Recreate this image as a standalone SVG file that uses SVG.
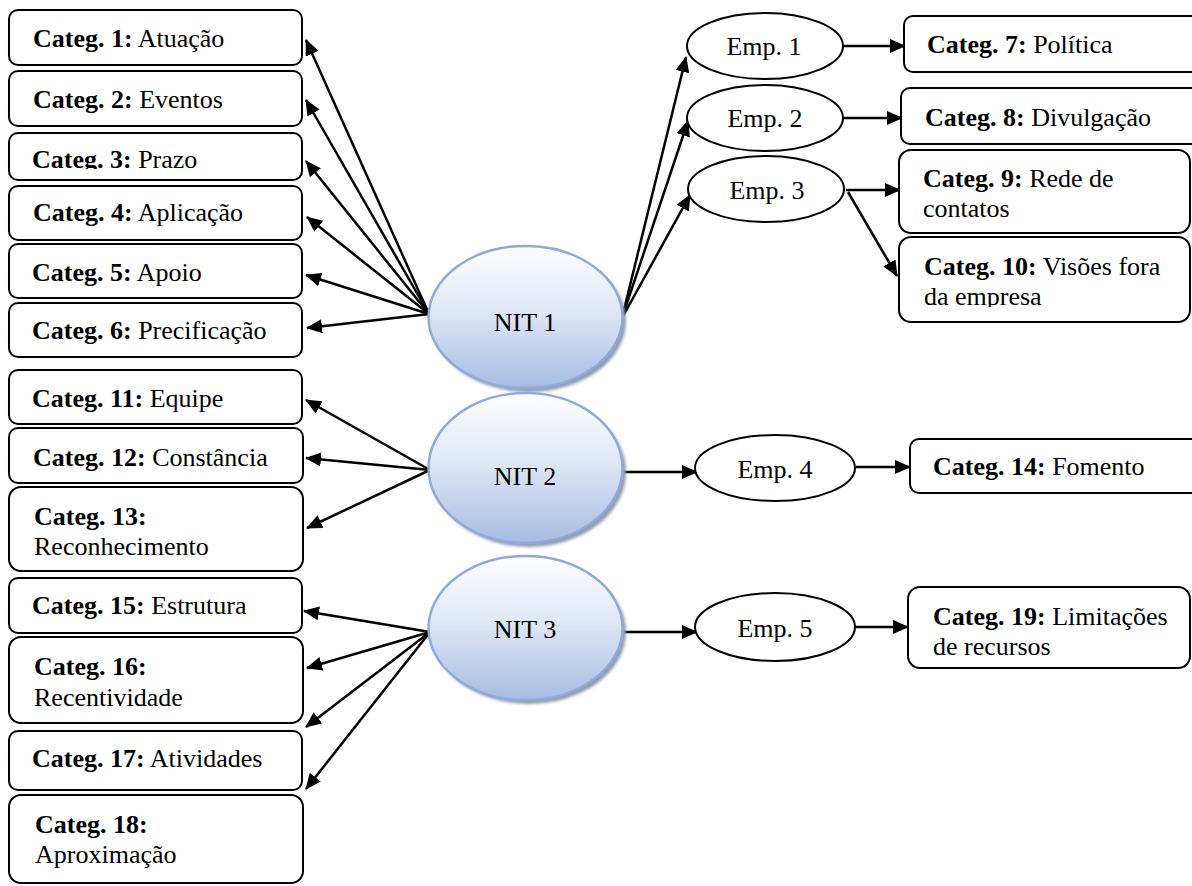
<svg xmlns="http://www.w3.org/2000/svg" width="1192" height="886" viewBox="0 0 1192 886">
<style>
text{font-family:"Liberation Serif","Times New Roman",serif;font-size:26px;fill:#000}
.b{font-weight:bold}
.box{fill:#fff;stroke:#000;stroke-width:2}
.emp{fill:#fff;stroke:#000;stroke-width:2}
.nit{fill:url(#ng);stroke:#8eaadb;stroke-width:2.5}
.sh{fill:#8f9bb0}
.c{text-anchor:middle}
#connectors line{stroke:#000;stroke-width:2.5;marker-end:url(#ah)}
</style>
<defs>
<linearGradient id="ng" x1="0" y1="0" x2="0" y2="1">
<stop offset="0" stop-color="#fdfdff"/>
<stop offset="0.45" stop-color="#e1e8f6"/>
<stop offset="1" stop-color="#a6bce2"/>
</linearGradient>
<filter id="blur" x="-10%" y="-10%" width="120%" height="120%"><feGaussianBlur stdDeviation="1.5"/></filter>
<marker id="ah" viewBox="0 0 16 14" refX="15" refY="7" markerWidth="16" markerHeight="14" markerUnits="userSpaceOnUse" orient="auto">
<path d="M0,0 L16,7 L0,14 z" fill="#000"/>
</marker>
<clipPath id="clip3"><rect x="9" y="133" width="293" height="36"/></clipPath>
<clipPath id="clip10"><rect x="899" y="237" width="291" height="70"/></clipPath>
</defs>

<g id="connectors">
<line x1="429" y1="314" x2="306" y2="40"/>
<line x1="429" y1="314" x2="306" y2="100"/>
<line x1="429" y1="314" x2="306" y2="161"/>
<line x1="429" y1="314" x2="307" y2="217"/>
<line x1="429" y1="314" x2="306" y2="275"/>
<line x1="429" y1="314" x2="307" y2="328"/>
<line x1="430" y1="470" x2="306" y2="400"/>
<line x1="430" y1="470" x2="306" y2="458"/>
<line x1="430" y1="470" x2="307" y2="528"/>
<line x1="430" y1="632" x2="304" y2="611"/>
<line x1="430" y1="632" x2="307" y2="668"/>
<line x1="430" y1="632" x2="306" y2="727"/>
<line x1="430" y1="632" x2="306" y2="789"/>
<line x1="622" y1="318" x2="686" y2="57"/>
<line x1="622" y1="318" x2="688" y2="121"/>
<line x1="622" y1="318" x2="690" y2="195"/>
<line x1="843" y1="46" x2="905" y2="46"/>
<line x1="843" y1="118" x2="902" y2="118"/>
<line x1="846" y1="190" x2="900" y2="190"/>
<line x1="848" y1="192" x2="897" y2="276"/>
<line x1="624" y1="472" x2="697" y2="472"/>
<line x1="856" y1="467" x2="910" y2="467"/>
<line x1="624" y1="632" x2="697" y2="632"/>
<line x1="855" y1="627" x2="908" y2="627"/>
</g>

<g id="nit1">
<ellipse class="sh" cx="529" cy="321" rx="97" ry="71" filter="url(#blur)"/>
<ellipse class="nit" cx="525.5" cy="317" rx="97" ry="71"/>
<text class="c" x="525" y="331">NIT 1</text>
</g>
<g id="nit2">
<ellipse class="sh" cx="529" cy="472" rx="97" ry="75" filter="url(#blur)"/>
<ellipse class="nit" cx="525.5" cy="468" rx="97" ry="75"/>
<text class="c" x="525" y="485">NIT 2</text>
</g>
<g id="nit3">
<ellipse class="sh" cx="529" cy="632" rx="97" ry="72" filter="url(#blur)"/>
<ellipse class="nit" cx="525.5" cy="628" rx="97" ry="72"/>
<text class="c" x="525" y="638">NIT 3</text>
</g>

<g id="emp1"><ellipse class="emp" cx="765" cy="46" rx="78" ry="33"/><text class="c" x="764" y="55">Emp. 1</text></g>
<g id="emp2"><ellipse class="emp" cx="765" cy="118" rx="78" ry="33"/><text class="c" x="765" y="127">Emp. 2</text></g>
<g id="emp3"><ellipse class="emp" cx="766" cy="189" rx="78" ry="33"/><text class="c" x="767" y="199">Emp. 3</text></g>
<g id="emp4"><ellipse class="emp" cx="775" cy="468" rx="80" ry="33"/><text class="c" x="775" y="478">Emp. 4</text></g>
<g id="emp5"><ellipse class="emp" cx="775" cy="627" rx="80" ry="34"/><text class="c" x="775" y="637">Emp. 5</text></g>

<g id="cat1"><rect class="box" x="9" y="10" width="293" height="55" rx="9"/><text x="33" y="47"><tspan class="b">Categ. 1:</tspan> Atuação</text></g>
<g id="cat2"><rect class="box" x="9" y="71" width="293" height="55" rx="9"/><text x="33" y="108"><tspan class="b">Categ. 2:</tspan> Eventos</text></g>
<g id="cat3"><rect class="box" x="9" y="133" width="293" height="47" rx="9"/><text x="32" y="168" clip-path="url(#clip3)"><tspan class="b">Categ. 3:</tspan> Prazo</text></g>
<g id="cat4"><rect class="box" x="9" y="186" width="293" height="54" rx="9"/><text x="33" y="221"><tspan class="b">Categ. 4:</tspan> Aplicação</text></g>
<g id="cat5"><rect class="box" x="9" y="244" width="293" height="54" rx="9"/><text x="32" y="281"><tspan class="b">Categ. 5:</tspan> Apoio</text></g>
<g id="cat6"><rect class="box" x="9" y="303" width="293" height="54" rx="9"/><text x="32" y="339"><tspan class="b">Categ. 6:</tspan> Precificação</text></g>

<g id="cat11"><rect class="box" x="9" y="370" width="293" height="54" rx="9"/><text x="32" y="407"><tspan class="b">Categ. 11:</tspan> Equipe</text></g>
<g id="cat12"><rect class="box" x="9" y="428" width="294" height="55" rx="9"/><text x="33" y="466"><tspan class="b">Categ. 12:</tspan> Constância</text></g>
<g id="cat13"><rect class="box" x="9" y="487" width="294" height="84" rx="12"/><text x="34" y="525"><tspan class="b">Categ. 13:</tspan></text><text x="34" y="555">Reconhecimento</text></g>
<g id="cat15"><rect class="box" x="9" y="578" width="293" height="55" rx="9"/><text x="32" y="614"><tspan class="b">Categ. 15:</tspan> Estrutura</text></g>
<g id="cat16"><rect class="box" x="9" y="637" width="294" height="86" rx="12"/><text x="34" y="675"><tspan class="b">Categ. 16:</tspan></text><text x="34" y="706">Recentividade</text></g>
<g id="cat17"><rect class="box" x="9" y="731" width="293" height="59" rx="9"/><text x="32" y="767"><tspan class="b">Categ. 17:</tspan> Atividades</text></g>
<g id="cat18"><rect class="box" x="9" y="795" width="294" height="88" rx="12"/><text x="35" y="833"><tspan class="b">Categ. 18:</tspan></text><text x="35" y="863">Aproximação</text></g>

<g id="cat7"><rect class="box" x="904" y="16" width="300" height="56" rx="9"/><text x="927" y="53"><tspan class="b">Categ. 7:</tspan> Política</text></g>
<g id="cat8"><rect class="box" x="901" y="88" width="300" height="56" rx="9"/><text x="925" y="126"><tspan class="b">Categ. 8:</tspan> Divulgação</text></g>
<g id="cat9"><rect class="box" x="899" y="150" width="291" height="83" rx="12"/><text x="923" y="187"><tspan class="b">Categ. 9:</tspan> Rede de</text><text x="923" y="217">contatos</text></g>
<g id="cat10"><rect class="box" x="899" y="237" width="291" height="85" rx="12"/><g clip-path="url(#clip10)"><text x="924" y="275"><tspan class="b">Categ. 10:</tspan> Visões fora</text><text x="924" y="305">da empresa</text></g></g>
<g id="cat14"><rect class="box" x="910" y="439" width="300" height="54" rx="9"/><text x="933" y="475"><tspan class="b">Categ. 14:</tspan> Fomento</text></g>
<g id="cat19"><rect class="box" x="908" y="587" width="282" height="81" rx="12"/><text x="933" y="625"><tspan class="b">Categ. 19:</tspan> Limitações</text><text x="933" y="655">de recursos</text></g>
</svg>
